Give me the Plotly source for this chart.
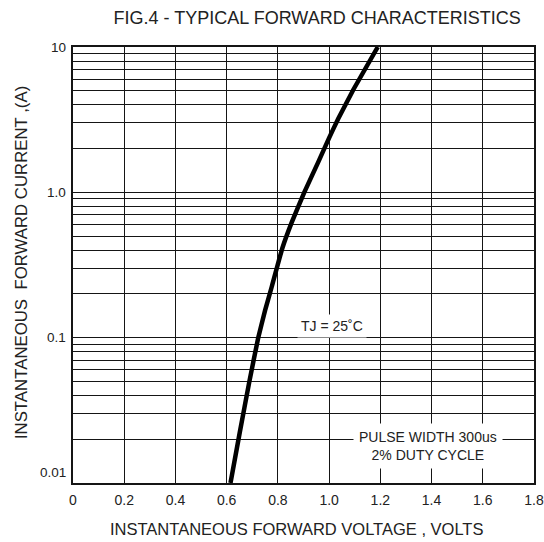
import plotly.graph_objects as go

# Data
voltage = [0.615, 0.652, 0.688, 0.723, 0.750, 0.776, 0.817, 0.854, 0.903, 0.958, 1.001, 1.036, 1.095, 1.19]
current = [0.0100, 0.0227, 0.0492, 0.0995, 0.154, 0.224, 0.411, 0.621, 1.0, 1.62, 2.39, 3.22, 5.1, 10.0]

x_ticks = [0, 0.2, 0.4, 0.6, 0.8, 1.0, 1.2, 1.4, 1.6, 1.8]
x_labels = ["0", "0.2", "0.4", "0.6", "0.8", "1.0", "1.2", "1.4", "1.6", "1.8"]
y_labels = ["10", "1.0", "0.1", "0.01"]
y_label_log = [1.0, 0.0, -1.0, -1.93]
y_grid = [m * d for d in [0.01, 0.1, 1.0] for m in range(1, 10)] + [10]

FONT = "Liberation Sans, Arial, sans-serif"
TXT = "#222222"
GRID = "#151515"

fig = go.Figure()
fig.add_trace(go.Scatter(
    x=voltage, y=current, mode="lines",
    line=dict(color="black", width=4.5, shape="spline", smoothing=0.3),
    showlegend=False, hoverinfo="skip",
))

fig.update_layout(
    width=544, height=542,
    margin=dict(l=73, r=10, t=47, b=59, autoexpand=False),
    paper_bgcolor="white", plot_bgcolor="white",
    font=dict(family=FONT, color=TXT, size=14),
    title=dict(text="FIG.4 - TYPICAL FORWARD CHARACTERISTICS",
               x=0.583, xanchor="center", y=0.967, yanchor="middle",
               font=dict(family=FONT, size=18, color=TXT)),
    xaxis=dict(range=[0, 1.8], tickvals=x_ticks, ticktext=x_labels,
               showgrid=True, gridcolor=GRID, gridwidth=1,
               showline=True, linecolor=GRID, linewidth=1.5, mirror=True,
               ticks="", ticklabelstandoff=3, zeroline=False, automargin=False,
               tickfont=dict(size=14, color=TXT, family=FONT)),
    yaxis=dict(type="log", range=[-2, 1], tickvals=y_grid,
               ticktext=[""] * len(y_grid), showticklabels=False,
               showgrid=True, gridcolor=GRID, gridwidth=1,
               showline=True, linecolor=GRID, linewidth=1.5, mirror=True,
               ticks="", zeroline=False, automargin=False),
)

for lbl, yl in zip(y_labels, y_label_log):
    fig.add_annotation(text=lbl, xref="paper", yref="y", x=0, y=yl,
                       xanchor="right", yanchor="middle", xshift=-5,
                       showarrow=False, font=dict(size=13.5, color=TXT, family=FONT))

fig.add_annotation(text="INSTANTANEOUS FORWARD VOLTAGE , VOLTS",
                   xref="paper", yref="paper", x=0.484, y=-0.105,
                   xanchor="center", yanchor="middle", showarrow=False,
                   font=dict(size=16.5, color=TXT, family=FONT))
fig.add_annotation(text="INSTANTANEOUS  FORWARD CURRENT ,(A)",
                   xref="paper", yref="paper", x=-0.11, y=0.505,
                   xanchor="center", yanchor="middle", showarrow=False,
                   textangle=-90,
                   font=dict(size=16.8, color=TXT, family=FONT))

fig.add_annotation(text="TJ = 25˚C", x=1.01, y=-0.917, xref="x", yref="y",
                   showarrow=False, bgcolor="white", borderpad=3,
                   font=dict(size=14, color=TXT, family=FONT))
fig.add_annotation(text="PULSE WIDTH 300us<br>2% DUTY CYCLE", x=1.386, y=-1.745,
                   xref="x", yref="y", showarrow=False, bgcolor="white",
                   borderpad=5, font=dict(size=14, color=TXT, family=FONT))

fig.write_html("out.html", config={"displayModeBar": False},
               post_script="document.body.style.margin='0';document.body.style.overflow='hidden';")
